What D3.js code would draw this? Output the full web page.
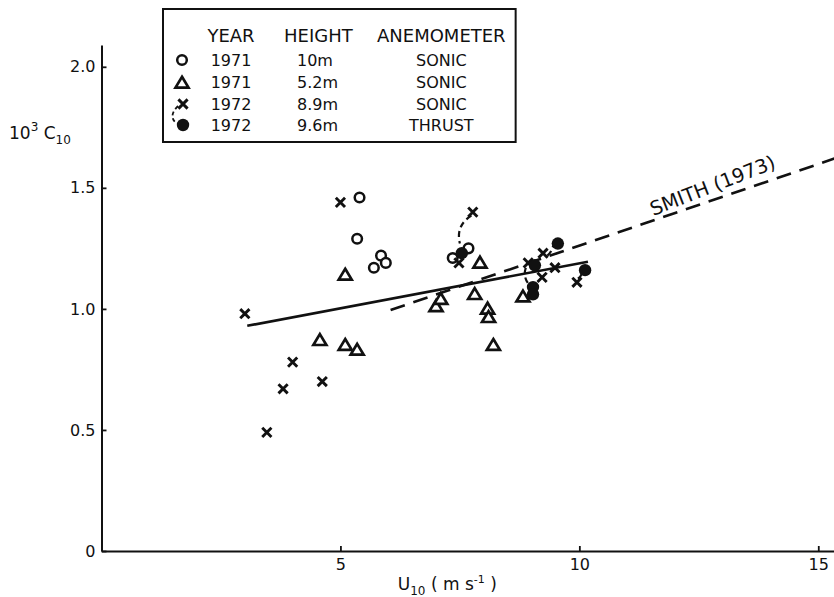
<!DOCTYPE html>
<html><head><meta charset="utf-8">
<script src="https://cdn.jsdelivr.net/npm/d3@7"></script>
<style>body{margin:0;background:#fff}svg{display:block}text{font-family:"DejaVu Sans",sans-serif;fill:#111}</style>
</head><body><svg id="c" width="834" height="597"></svg>
<script>
// ---- data ----
const open1971 = [[5.4,1.46],[5.35,1.29],[5.7,1.17],[5.85,1.22],[5.95,1.19],[7.35,1.21],[7.68,1.25]];
const tri1971 = [[4.57,0.87],[5.1,0.85],[5.35,0.83],[5.1,1.14],[7.0,1.01],[7.1,1.04],[7.81,1.06],[7.92,1.19],[8.08,1.0],[8.1,0.965],[8.2,0.85],[8.82,1.05]];
const x1972 = [[3.0,0.98],[3.46,0.49],[3.8,0.67],[4.0,0.78],[4.62,0.70],[5.0,1.44],[7.48,1.19],[7.77,1.40],[8.93,1.19],[9.22,1.13],[9.24,1.23],[9.49,1.17],[9.95,1.11]];
const thrust1972 = [[7.54,1.23],[9.07,1.18],[9.03,1.09],[9.03,1.06],[9.55,1.27],[10.12,1.16]];
// dashed links between simultaneous sonic (x) and thrust (dot) values
const links = [[[7.74,1.385],[7.5,1.27]],[[8.88,1.17],[8.95,1.10]],[[9.33,1.22],[9.45,1.26]],[[9.97,1.125],[10.04,1.165]]];
const linkBend = [11,5,2,4];
const fitLine = [[3.05,0.93],[10.18,1.195]];
const smithLine = [[6.05,0.995],[15.4,1.625]];
const yTicks = [0,0.5,1.0,1.5,2.0];
const yTickLabels = ["0","0.5","1.0","1.5","2.0"];
const xTicks = [5,10,15];
const legendHeader = ["YEAR","HEIGHT","ANEMOMETER"];
const legendYears = ["1971","1971","1972","1972"];
const legendHeights = ["10m","5.2m","8.9m","9.6m"];
const legendAnemo = ["SONIC","SONIC","SONIC","THRUST"];

// ---- scales ----
const svg = d3.select("#c");
const x = d3.scaleLinear().domain([0,15.35]).range([101.5,835]);
const y = d3.scaleLinear().domain([0,2.09]).range([551,45]);

// axes
const yAxis = d3.axisLeft(y).tickValues(yTicks).tickSize(-5).tickSizeOuter(0).tickPadding(6)
  .tickFormat((d,i)=>yTickLabels[i]);
const gy = svg.append("g").attr("transform",`translate(${x(0)},0)`).call(yAxis);
const xAxis = d3.axisBottom(x).tickValues(xTicks).tickSize(-5).tickSizeOuter(0).tickPadding(8);
const gx = svg.append("g").attr("transform",`translate(0,${y(0)})`).call(xAxis);
[gx,gy].forEach(g=>{
  g.select(".domain").attr("stroke","#111").attr("stroke-width",2);
  g.selectAll(".tick line").attr("stroke","#111").attr("stroke-width",1.8);
  g.selectAll(".tick text").attr("font-size",16).attr("font-family","DejaVu Sans").attr("fill","#111");
});

// axis titles
const yl = svg.append("text").attr("x",9).attr("y",139).attr("font-size",17);
yl.append("tspan").text("10");
yl.append("tspan").attr("font-size",12).attr("dy",-8).text("3");
yl.append("tspan").attr("dy",8).text(" C");
yl.append("tspan").attr("font-size",12).attr("dy",5).text("10");

const xl = svg.append("text").attr("x",x(6.2)).attr("y",590).attr("font-size",17);
xl.append("tspan").text("U");
xl.append("tspan").attr("font-size",12).attr("dy",5).text("10");
xl.append("tspan").attr("dy",-5).text(" ( m s");
xl.append("tspan").attr("font-size",11).attr("dy",-7).text("-1");
xl.append("tspan").attr("dy",7).text(" )");

// lines
const line = d3.line().x(d=>x(d[0])).y(d=>y(d[1]));
svg.append("path").attr("d",line(fitLine)).attr("fill","none").attr("stroke","#111").attr("stroke-width",2.6);
svg.append("path").attr("d",line(smithLine)).attr("fill","none").attr("stroke","#111").attr("stroke-width",2.6).attr("stroke-dasharray","15,9");

// Smith label
const sx0=x(smithLine[0][0]), sy0=y(smithLine[0][1]), sx1=x(smithLine[1][0]), sy1=y(smithLine[1][1]);
const ang = Math.atan2(sy1-sy0, sx1-sx0)*180/Math.PI - 2.5;
svg.append("text").attr("transform",`translate(${x(12.84)},${y(1.508)+6}) rotate(${ang})`)
  .attr("text-anchor","middle").attr("font-size",19.5).text("SMITH (1973)");

// links (dashed arcs)
function arc(p,q,bend){
  const x1=x(p[0]),y1=y(p[1]),x2=x(q[0]),y2=y(q[1]);
  const mx=(x1+x2)/2,my=(y1+y2)/2,dx=x2-x1,dy=y2-y1,len=Math.hypot(dx,dy);
  const cx=mx - dy/len*bend, cy=my + dx/len*bend;
  return `M${x1},${y1}Q${cx},${cy} ${x2},${y2}`;
}
svg.selectAll(".lnk").data(links).join("path").attr("class","lnk")
  .attr("d",(d,i)=>arc(d[0],d[1],linkBend[i]))
  .attr("fill","none").attr("stroke","#111").attr("stroke-width",2.2).attr("stroke-dasharray","6,4");

// markers
function drawCircle(g,cx,cy){g.append("circle").attr("cx",cx).attr("cy",cy).attr("r",4.8).attr("fill","#fff").attr("stroke","#111").attr("stroke-width",2.5);}
function drawTri(g,cx,cy){const s=6.2;g.append("path").attr("d",`M${cx},${cy-s}L${cx+s*1.05},${cy+s*0.75}L${cx-s*1.05},${cy+s*0.75}Z`).attr("fill","#fff").attr("stroke","#111").attr("stroke-width",2.7).attr("stroke-linejoin","miter");}
function drawX(g,cx,cy){const s=4.6;g.append("path").attr("d",`M${cx-s},${cy-s}L${cx+s},${cy+s}M${cx+s},${cy-s}L${cx-s},${cy+s}`).attr("stroke","#111").attr("stroke-width",2.9).attr("fill","none");}
function drawDot(g,cx,cy){g.append("circle").attr("cx",cx).attr("cy",cy).attr("r",6.2).attr("fill","#111");}

const gm = svg.append("g");
tri1971.forEach(d=>drawTri(gm,x(d[0]),y(d[1])));
open1971.forEach(d=>drawCircle(gm,x(d[0]),y(d[1])));
x1972.forEach(d=>drawX(gm,x(d[0]),y(d[1])));
thrust1972.forEach(d=>drawDot(gm,x(d[0]),y(d[1])));

// legend
const lg = svg.append("g");
const rowY = [60,82,104,125];
const hdr = lg.append("g");
hdr.append("text").attr("x",231).attr("y",42).attr("text-anchor","middle").attr("font-size",18).text(legendHeader[0]);
hdr.append("text").attr("x",284).attr("y",42).attr("font-size",18).text(legendHeader[1]);
const an = hdr.append("text").attr("x",377).attr("y",42).attr("font-size",18).text(legendHeader[2]);
const anW = an.node().getComputedTextLength();
const anC = 377 + anW/2;
legendYears.forEach((t,i)=>lg.append("text").attr("x",231).attr("y",rowY[i]+6).attr("text-anchor","middle").attr("font-size",16).text(t));
legendHeights.forEach((t,i)=>lg.append("text").attr("x",297).attr("y",rowY[i]+6).attr("font-size",16).text(t));
legendAnemo.forEach((t,i)=>lg.append("text").attr("x",anC).attr("y",rowY[i]+6).attr("text-anchor","middle").attr("font-size",16).text(t));
drawCircle(lg,182,rowY[0]);
drawTri(lg,182,rowY[1]+1);
drawX(lg,183,rowY[2]);
drawDot(lg,183,rowY[3]);
lg.append("path").attr("d",`M178,${rowY[2]+2}Q168,${rowY[2]+12} 176,${rowY[3]-2}`).attr("fill","none").attr("stroke","#111").attr("stroke-width",1.8).attr("stroke-dasharray","4,3");
lg.insert("rect",":first-child").attr("x",163).attr("y",9).attr("width",377+anW+10-163).attr("height",133)
  .attr("fill","#fff").attr("stroke","#111").attr("stroke-width",2);
</script></body></html>
